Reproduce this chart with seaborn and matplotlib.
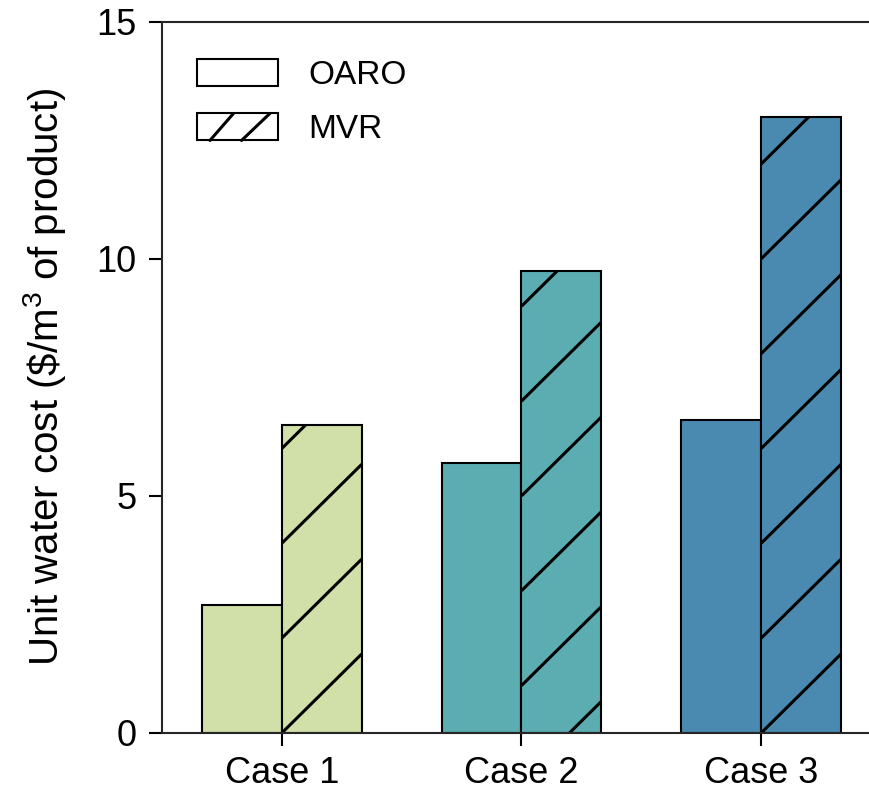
import matplotlib
matplotlib.use("Agg")
import matplotlib.pyplot as plt
import numpy as np
import pandas as pd
import seaborn as sns
from matplotlib.patches import Rectangle
from matplotlib.lines import Line2D
from matplotlib.legend_handler import HandlerBase

# Unit water cost per case and process
cases = ["Case 1", "Case 2", "Case 3"]
methods = ["OARO", "MVR"]
oaro_cost = [2.7, 5.7, 6.6]
mvr_cost = [6.5, 9.75, 13.0]
case_colors = ["#d0e0a8", "#5badb1", "#4a8ab0"]
y_ticks = [0, 5, 10, 15]

df = pd.DataFrame({
    "case": cases * 2,
    "method": [methods[0]] * len(cases) + [methods[1]] * len(cases),
    "cost": oaro_cost + mvr_cost,
})

sns.set_style("ticks")
plt.rcParams["font.family"] = ["Liberation Sans", "DejaVu Sans"]
plt.rcParams["text.color"] = "black"
plt.rcParams["axes.labelcolor"] = "black"

EDGE_LW = 1.5
HATCH_LW = 2.2

fig = plt.figure(figsize=(8.69, 7.95), dpi=100)
ax = fig.add_axes([0.1864, 0.078, 0.8136, 0.8946])

sns.barplot(data=df, x="case", y="cost", hue="method", order=cases,
            hue_order=methods, palette=["white", "white"], width=0.667,
            gap=0, errorbar=None, edgecolor="black", linewidth=EDGE_LW,
            legend=False, ax=ax)

# colour each pair of bars by case
for container in ax.containers:
    for bar, color in zip(container, case_colors):
        bar.set_facecolor(color)

# sparse diagonal hatch on the MVR bars: lines y = 5x - c, c even
slope, step = 5.0, 2.0
for bar in ax.containers[1]:
    x0 = bar.get_x()
    x1 = x0 + bar.get_width()
    h = bar.get_height()
    c = np.ceil((slope * x0 - h) / step) * step
    while c <= slope * x1 + 1e-9:
        ln, = ax.plot([x0, x1], [slope * x0 - c, slope * x1 - c],
                      color="black", lw=HATCH_LW, solid_capstyle="butt",
                      zorder=bar.get_zorder() + 0.1)
        ln.set_clip_path(bar)
        c += step

ax.set_ylim(0, 15)
ax.set_yticks(y_ticks)
ax.set_xlim(-0.5, 2.45)
ax.set_xlabel("")
ax.set_ylabel(r"Unit water cost (\$/m$^{\mathregular{3}}$ of product)",
              fontsize=29)
ax.yaxis.set_label_coords(-0.133, 0.5)

ax.spines["right"].set_visible(False)
for side in ("left", "bottom", "top"):
    ax.spines[side].set_linewidth(EDGE_LW)
ax.tick_params(axis="both", direction="out", length=9.5, width=EDGE_LW,
               labelsize=26, color="black", labelcolor="black")
ax.tick_params(axis="y", pad=9)
ax.tick_params(axis="x", pad=7)


class BoxHandler(HandlerBase):
    def __init__(self, hatched=False):
        super().__init__()
        self.hatched = hatched

    def create_artists(self, legend, orig_handle, xdescent, ydescent,
                       width, height, fontsize, trans):
        x0, y0 = -xdescent, -ydescent
        arts = [Rectangle((x0, y0), width, height, facecolor="white",
                          edgecolor="black", lw=EDGE_LW, transform=trans)]
        if self.hatched:
            for b, t in [(0.16, 0.45), (0.55, 0.90)]:
                arts.append(Line2D([x0 + b * width, x0 + t * width],
                                   [y0, y0 + height], color="black",
                                   lw=HATCH_LW, transform=trans))
        return arts


h_oaro = Rectangle((0, 0), 1, 1)
h_mvr = Rectangle((0, 0), 1, 1)
ax.legend([h_oaro, h_mvr], methods,
          handler_map={h_oaro: BoxHandler(False), h_mvr: BoxHandler(True)},
          loc="upper left", bbox_to_anchor=(0.0495, 0.948), frameon=False,
          fontsize=24, handlelength=2.43, handleheight=0.87,
          handletextpad=0.9, labelspacing=0.68, borderpad=0,
          borderaxespad=0)

fig.savefig("out.png", dpi=100)
